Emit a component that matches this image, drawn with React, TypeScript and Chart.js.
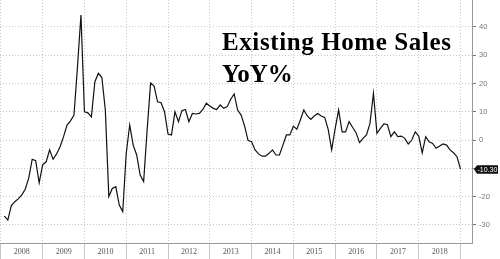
import React, { useEffect, useRef } from 'react';
import { Chart, registerables } from 'chart.js';

Chart.register(...registerables);

// ---- data ----
const yearLabels = ['2008', '2009', '2010', '2011', '2012', '2013', '2014', '2015', '2016', '2017', '2018'];

// Existing home sales, YoY %, monthly Jan 2008 .. Dec 2018
const yoy2008 = [-26.9, -28.3, -23.2, -21.8, -20.8, -19.4, -17.4, -13.5, -6.8, -7.3, -15.1, -8.8];
const yoy2009 = [-7.7, -3.5, -6.8, -4.9, -2.4, 1.2, 5.3, 6.8, 8.8, 25.9, 44.2, 10.0];
const yoy2010 = [9.6, 8.2, 20.6, 23.6, 22.1, 10.6, -20.0, -17.1, -16.5, -23.0, -25.3, -4.7];
const yoy2011 = [5.3, -1.8, -5.3, -12.4, -14.7, 3.5, 20.2, 19.1, 13.5, 13.2, 10.0, 2.1];
const yoy2012 = [1.8, 10.0, 6.5, 10.4, 10.8, 6.5, 9.4, 9.2, 9.4, 10.8, 13.0, 12.0];
const yoy2013 = [11.2, 10.8, 12.4, 11.2, 11.8, 14.4, 16.3, 10.6, 8.8, 4.9, -0.2, -0.6];
const yoy2014 = [-3.5, -4.9, -5.7, -5.7, -4.7, -3.5, -5.3, -5.3, -1.8, 1.8, 1.8, 4.9];
const yoy2015 = [3.8, 7.1, 10.6, 8.5, 7.3, 8.5, 9.4, 8.5, 8.0, 3.8, -3.5, 4.0];
const yoy2016 = [10.6, 2.9, 2.9, 6.5, 4.5, 2.6, -0.9, 0.6, 1.8, 5.9, 16.5, 2.4];
const yoy2017 = [4.1, 5.7, 5.5, 1.2, 2.9, 1.2, 1.4, 0.6, -1.4, 0.0, 2.9, 1.4];
const yoy2018 = [-4.5, 1.2, -0.6, -1.2, -2.9, -2.1, -1.4, -1.8, -3.5, -4.5, -5.9, -10.3];

const yoyValues = [
  ...yoy2008, ...yoy2009, ...yoy2010, ...yoy2011, ...yoy2012, ...yoy2013,
  ...yoy2014, ...yoy2015, ...yoy2016, ...yoy2017, ...yoy2018,
];

const yTickValues = [-30, -20, -10, 0, 10, 20, 30, 40];
const lastLabel = '-10.30';
const titleLines = ['Existing Home Sales', 'YoY%'];

const titlePlugin = {
  id: 'titleText',
  afterDraw(chart: any) {
    const ctx = chart.ctx;
    ctx.save();
    ctx.fillStyle = '#000';
    ctx.textBaseline = 'alphabetic';
    ctx.textAlign = 'left';
    ctx.font = 'bold 25px "Liberation Serif", serif';
    try { (ctx as any).letterSpacing = '0.6px'; } catch (e) { /* ignore */ }
    ctx.fillText(titleLines[0], 222, 50);
    try { (ctx as any).letterSpacing = '0px'; } catch (e) { /* ignore */ }
    ctx.fillText(titleLines[1], 222, 82);
    ctx.restore();
  },
};

const lastValuePlugin = {
  id: 'lastValue',
  afterDraw(chart: any) {
    const ctx = chart.ctx;
    const y = chart.scales.y.getPixelForValue(yoyValues[yoyValues.length - 1]);
    const x0 = chart.chartArea.right + 1;
    ctx.save();
    ctx.fillStyle = '#111';
    ctx.beginPath();
    ctx.moveTo(x0 + 1, y);
    ctx.lineTo(x0 + 4, y - 4);
    ctx.lineTo(x0 + 25, y - 4);
    ctx.lineTo(x0 + 25, y + 4.5);
    ctx.lineTo(x0 + 4, y + 4.5);
    ctx.closePath();
    ctx.fill();
    ctx.fillStyle = '#fff';
    ctx.font = '7px "Liberation Sans", sans-serif';
    ctx.textBaseline = 'middle';
    ctx.textAlign = 'left';
    ctx.fillText(lastLabel, x0 + 4.5, y + 0.5);
    ctx.restore();
  },
};

export default function App() {
  const canvasRef = useRef<HTMLCanvasElement | null>(null);

  useEffect(() => {
    if (!canvasRef.current) return;
    const points = yoyValues.map((v, i) => ({ x: i + 1, y: v }));
    const chart = new Chart(canvasRef.current, {
      type: 'line',
      data: {
        datasets: [
          {
            data: points,
            borderColor: '#111',
            borderWidth: 1.2,
            pointRadius: 0,
            tension: 0,
            fill: false,
          },
        ],
      },
      options: {
        responsive: false,
        animation: false,
        devicePixelRatio: 1,
        layout: { padding: 0 },
        plugins: {
          legend: { display: false },
          tooltip: { enabled: false },
          title: { display: false },
        },
        scales: {
          x: {
            type: 'linear',
            position: 'bottom',
            min: -0.25,
            max: 135.3,
            afterBuildTicks: (s: any) => {
              s.ticks = yearLabels.concat(['']).map((_, i) => ({ value: i * 12 }));
            },
            afterFit: (s: any) => {
              s.height = 16;
              s.paddingLeft = 0;
              s.paddingRight = 0;
            },
            ticks: {
              autoSkip: false,
              maxRotation: 0,
              minRotation: 0,
              labelOffset: 21,
              padding: -12,
              color: '#555',
              font: { size: 8, family: '"Liberation Serif", serif' },
              callback: (_v: any, index: number) => yearLabels[index] ?? '',
            },
            grid: {
              color: '#c8c8c8',
              lineWidth: 1,
              tickLength: 16,
              tickColor: '#c8c8c8',
              tickBorderDash: [],
            },
            border: { display: true, color: '#999', width: 1, dash: [1, 2] },
          },
          y: {
            type: 'linear',
            position: 'right',
            min: -36.4,
            max: 49.5,
            afterBuildTicks: (s: any) => {
              s.ticks = yTickValues.map((v) => ({ value: v }));
            },
            afterFit: (s: any) => {
              s.width = 28;
              s.paddingTop = 0;
              s.paddingBottom = 0;
            },
            ticks: {
              padding: 3,
              color: '#777',
              font: { size: 7.5, family: '"Liberation Sans", sans-serif' },
              callback: (v: any) => String(v),
            },
            grid: {
              color: '#c8c8c8',
              lineWidth: 1,
              tickLength: 4,
              tickColor: '#777',
              tickBorderDash: [],
            },
            border: { display: true, color: '#999', width: 1, dash: [1, 2] },
          },
        },
      },
      plugins: [titlePlugin, lastValuePlugin],
    } as any);
    return () => chart.destroy();
  }, []);

  return (
    <div style={{ position: 'fixed', left: 0, top: 0, width: 500, height: 259, background: '#fff' }}>
      <canvas ref={canvasRef} width={500} height={259} style={{ display: 'block' }} />
    </div>
  );
}
